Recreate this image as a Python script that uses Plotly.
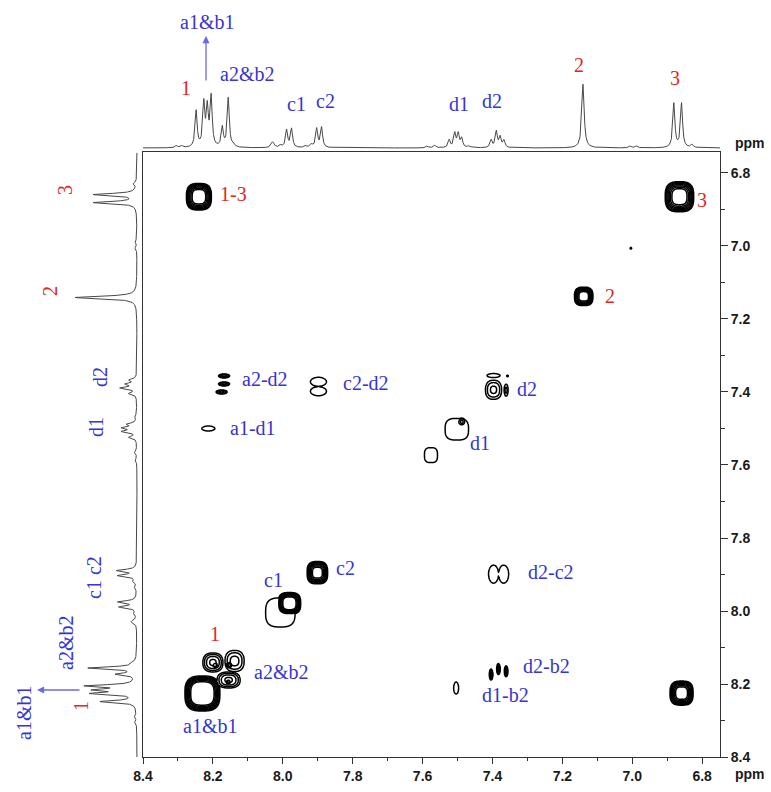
import numpy as np
import plotly.graph_objects as go

FIG_W, FIG_H = 771, 792

# ppm windows of the 2D map (F2 horizontal, F1 vertical)
X_RANGE = [8.4, 6.749]
Y_RANGE = [8.4, 6.7425]

# ---------------------------------------------------------------
# 1H projection: line positions (ppm), relative heights, half widths (ppm)
H1_PPM = [8.305, 8.289, 8.248, 8.226, 8.216, 8.205, 8.173, 8.156, 8.141,
          8.029, 8.006, 7.989, 7.975, 7.935, 7.918, 7.903, 7.889,
          7.587, 7.565, 7.524, 7.508, 7.498, 7.488, 7.467,
          7.404, 7.389, 7.378, 7.367,
          7.141, 7.006, 6.988, 6.881, 6.859, 6.829]
H1_HEIGHT = [0.03, 0.03, 0.56, 0.66, 0.58, 0.76, 0.30, 0.76, 0.04,
             0.09, 0.04, 0.27, 0.29, 0.03, 0.05, 0.29, 0.31,
             0.03, 0.04, 0.12, 0.22, 0.21, 0.14, 0.03,
             0.12, 0.25, 0.16, 0.11,
             0.98, 0.03, 0.03, 0.68, 0.68, 0.05]
H1_HWHM = [0.004, 0.004, 0.0035, 0.0035, 0.0035, 0.0035, 0.0035, 0.0035, 0.004,
           0.005, 0.004, 0.0035, 0.0035, 0.004, 0.004, 0.0035, 0.0035,
           0.004, 0.004, 0.0035, 0.0035, 0.0035, 0.0035, 0.004,
           0.0035, 0.0035, 0.0035, 0.0035,
           0.004, 0.004, 0.004, 0.0035, 0.0035, 0.004]

# ---------------------------------------------------------------
# 2D correlation peaks: F2 / F1 position (ppm), log amplitude above the
# lowest contour, widths (ppm) and superellipse exponent of the peak shape
PK_X = [8.240, 6.865, 7.139, 7.901, 7.981, 8.230, 6.859,
        7.502, 7.488, 7.576, 8.007,
        7.397, 7.397, 7.361, 7.357, 7.004,
        8.168, 8.168, 8.175, 7.898, 7.898, 8.213,
        7.397, 7.368, 7.404, 7.383, 7.361, 7.504,
        8.138, 8.200, 8.155, 8.153, 8.156, 8.194]
PK_Y = [6.865, 6.865, 7.138, 7.895, 7.979, 8.226, 8.225,
        7.502, 7.482, 7.573, 8.004,
        7.394, 7.355, 7.395, 7.356, 7.006,
        7.356, 7.378, 7.400, 7.372, 7.398, 7.500,
        7.899, 7.899, 8.174, 8.159, 8.165, 8.211,
        8.137, 8.141, 8.189, 8.148, 8.194, 8.148]
PK_LNAMP = [5.1, 5.0, 4.9, 4.7, 5.5, 6.5, 4.9,
            0.5, 1.4, 0.5, 0.5,
            1.4, 0.5, 0.8, 0.3, 0.3,
            1.5, 1.5, 1.5, 0.5, 0.5, 0.5,
            0.5, 0.5, 1.5, 1.5, 1.5, 0.5,
            1.5, 2.0, 2.0, 4.6, 3.5, 3.0]
PK_WX = [0.0158, 0.0182, 0.0119, 0.0135, 0.0137, 0.0196, 0.0149,
         0.0473, 0.0092, 0.0263, 0.0595,
         0.0195, 0.0263, 0.0064, 0.0043, 0.0043,
         0.0129, 0.0129, 0.0129, 0.0324, 0.0324, 0.0263,
         0.0202, 0.0202, 0.0042, 0.0042, 0.0042, 0.0101,
         0.0223, 0.0203, 0.0233, 0.0037, 0.0046, 0.0057]
PK_WY = [0.0161, 0.0184, 0.0114, 0.0141, 0.0126, 0.0188, 0.0149,
         0.0419, 0.0088, 0.0290, 0.0562,
         0.0220, 0.0078, 0.0184, 0.0041, 0.0041,
         0.0045, 0.0045, 0.0045, 0.0174, 0.0174, 0.0097,
         0.0349, 0.0349, 0.0123, 0.0123, 0.0123, 0.0233,
         0.0236, 0.0184, 0.0155, 0.0036, 0.0044, 0.0055]
PK_SQ = [3, 3, 3, 3, 3, 3, 3,
         3, 2, 3, 3,
         2.5, 2, 2, 2, 2,
         2, 2, 2, 2, 2, 2,
         2, 2, 2, 2, 2, 2,
         2.5, 2.5, 2.5, 2, 2, 2]

CONTOUR_LEVELS = dict(start=0, end=3.6, size=0.6)

BLUE = "#3535d2"
RED = "#e0261f"
ARROW = "#6a6ae6"
TRACE_GREY = "#474747"

# plot frame in pixels
BOX_L, BOX_R, BOX_T, BOX_B = 143, 720, 152, 757


def fx(p):
    return p / FIG_W


def fy(p):
    return 1 - p / FIG_H


# ---------------------------------------------------------------
# 1D spectrum from the line list
ppm_axis = np.arange(6.745, 8.4005, 0.0004)
spec = np.zeros_like(ppm_axis)
for c, h, w in zip(H1_PPM, H1_HEIGHT, H1_HWHM):
    spec += h / (1 + ((ppm_axis - c) / w) ** 2)

fig = go.Figure()

fig.add_trace(go.Scatter(x=ppm_axis, y=spec, xaxis="x2", yaxis="y2", mode="lines",
                         line=dict(color=TRACE_GREY, width=1), hoverinfo="skip"))
fig.add_trace(go.Scatter(x=spec, y=ppm_axis, xaxis="x3", yaxis="y3", mode="lines",
                         line=dict(color=TRACE_GREY, width=1), hoverinfo="skip"))

# ---------------------------------------------------------------
# 2D contour map: neighbouring peaks share one local grid
n = len(PK_X)


def extent(i):
    r = np.sqrt(PK_LNAMP[i] + 2.0) * 1.08
    return (PK_X[i] - r * PK_WX[i], PK_X[i] + r * PK_WX[i],
            PK_Y[i] - r * PK_WY[i], PK_Y[i] + r * PK_WY[i])


boxes = [extent(i) for i in range(n)]
parent = list(range(n))


def find(a):
    while parent[a] != a:
        parent[a] = parent[parent[a]]
        a = parent[a]
    return a


for i in range(n):
    for j in range(i + 1, n):
        a, b = boxes[i], boxes[j]
        if a[0] < b[1] and b[0] < a[1] and a[2] < b[3] and b[2] < a[3]:
            parent[find(i)] = find(j)

groups = {}
for i in range(n):
    groups.setdefault(find(i), []).append(i)

for members in groups.values():
    x0 = min(boxes[i][0] for i in members)
    x1 = max(boxes[i][1] for i in members)
    y0 = min(boxes[i][2] for i in members)
    y1 = max(boxes[i][3] for i in members)
    step = min(min(PK_WX[i], PK_WY[i]) for i in members) / 5
    step = float(np.clip(step, 0.0004, 0.0015))
    gx = np.arange(x0, x1 + step, step)
    gy = np.arange(y0, y1 + step, step)
    XX, YY = np.meshgrid(gx, gy)
    z = np.full(XX.shape, -3.0)
    for i in members:
        q = PK_SQ[i]
        u = np.abs((XX - PK_X[i]) / PK_WX[i])
        v = np.abs((YY - PK_Y[i]) / PK_WY[i])
        r2 = (u ** q + v ** q) ** (2.0 / q)
        z = np.maximum(z, PK_LNAMP[i] - r2)
    z = np.maximum(z, -3.0)
    fig.add_trace(go.Contour(
        x=gx, y=gy, z=z, xaxis="x", yaxis="y",
        autocontour=False,
        contours=dict(coloring="lines", showlabels=False, **CONTOUR_LEVELS),
        colorscale=[[0, "black"], [1, "black"]],
        showscale=False,
        line=dict(width=1.5, smoothing=0.8),
        hoverinfo="skip",
    ))

# ---------------------------------------------------------------
tick_font = dict(family="Liberation Sans", size=14, color="#1a1a1a", weight="bold")
main_dom_x = [fx(BOX_L), fx(BOX_R)]
main_dom_y = [fy(BOX_B), fy(BOX_T)]

fig.update_layout(
    width=FIG_W, height=FIG_H,
    margin=dict(l=0, r=0, t=0, b=0, autoexpand=False),
    paper_bgcolor="white", plot_bgcolor="white",
    showlegend=False,
    xaxis=dict(domain=main_dom_x, range=X_RANGE, anchor="y", automargin=False,
               tickmode="linear", tick0=6.8, dtick=0.2, tickformat=".1f",
               ticks="outside", ticklen=6, tickwidth=1, tickcolor="#333",
               minor=dict(dtick=0.1, tick0=6.8, ticks="outside", ticklen=3,
                          tickcolor="#333", showgrid=False),
               showline=True, linecolor="#333", linewidth=1, mirror=True,
               showgrid=False, zeroline=False, tickfont=tick_font),
    yaxis=dict(domain=main_dom_y, range=Y_RANGE, anchor="x", side="right",
               automargin=False,
               tickmode="linear", tick0=6.8, dtick=0.2, tickformat=".1f",
               ticks="outside", ticklen=7, tickwidth=1, tickcolor="#333",
               minor=dict(dtick=0.1, tick0=6.8, ticks="outside", ticklen=4,
                          tickcolor="#333", showgrid=False),
               showline=True, linecolor="#333", linewidth=1, mirror=True,
               showgrid=False, zeroline=False, tickfont=tick_font),
    xaxis2=dict(domain=main_dom_x, range=X_RANGE, anchor="y2", visible=False,
                automargin=False),
    yaxis2=dict(domain=[fy(151), fy(30)], range=[-0.04615, 1.8154], anchor="x2",
                visible=False, automargin=False),
    xaxis3=dict(domain=[fx(30), fx(141)], range=[1.6984, -0.0635], anchor="y3",
                visible=False, automargin=False),
    yaxis3=dict(domain=main_dom_y, range=Y_RANGE, anchor="x3", visible=False,
                automargin=False),
)

annotations = []


def label(text, xp, yp, color, angle=0, size=20):
    annotations.append(dict(
        text=text, x=fx(xp), y=fy(yp), xref="paper", yref="paper",
        showarrow=False, textangle=angle, xanchor="center", yanchor="middle",
        font=dict(family="Liberation Serif", size=size, color=color)))


# labels of the top trace
label("a1&amp;b1", 207, 22, BLUE)
label("1", 186, 88, RED)
label("a2&amp;b2", 247, 74, BLUE)
label("c1", 296, 104, BLUE)
label("c2", 325, 101, BLUE)
label("d1", 459, 104, BLUE)
label("d2", 492, 101, BLUE)
label("2", 579, 65, RED)
label("3", 675, 78, RED)

# labels of the side trace
label("3", 65, 190, RED, -90)
label("2", 50, 291, RED, -90)
label("d2", 100, 377, BLUE, -90)
label("d1", 96, 427, BLUE, -90)
label("c1 c2", 94, 578, BLUE, -90)
label("a2&amp;b2", 66, 643, BLUE, -90)
label("1", 81, 706, RED, -90)
label("a1&amp;b1", 24, 713, BLUE, -90)

# labels inside the 2D map
label("1-3", 234, 194, RED)
label("3", 702, 200, RED)
label("2", 610, 296, RED)
label("d2", 527, 389, BLUE)
label("d1", 480, 443, BLUE)
label("a2-d2", 265, 379, BLUE)
label("c2-d2", 366, 383, BLUE)
label("a1-d1", 253, 428, BLUE)
label("c2", 345, 568, BLUE)
label("c1", 273, 580, BLUE)
label("d2-c2", 551, 572, BLUE)
label("1", 215, 634, RED)
label("a2&amp;b2", 281, 672, BLUE)
label("d2-b2", 546, 666, BLUE)
label("d1-b2", 505, 695, BLUE)
label("a1&amp;b1", 210, 726, BLUE)

# axis unit labels
for yp in (143, 774):
    annotations.append(dict(
        text="ppm", x=fx(750), y=fy(yp), xref="paper", yref="paper",
        showarrow=False, xanchor="center", yanchor="middle",
        font=dict(family="Liberation Sans", size=14, color="#1a1a1a", weight="bold")))

# arrows pointing to the a1&b1 labels
annotations.append(dict(
    text="", x=fx(206), y=fy(36), xref="paper", yref="paper",
    showarrow=True, ax=0, ay=46, arrowhead=2, arrowsize=1.1, arrowwidth=1.3,
    arrowcolor=ARROW))
annotations.append(dict(
    text="", x=fx(37), y=fy(690), xref="paper", yref="paper",
    showarrow=True, ax=44, ay=0, arrowhead=2, arrowsize=1.1, arrowwidth=1.3,
    arrowcolor=ARROW))

fig.update_layout(annotations=annotations)

fig.write_html("out.html")
